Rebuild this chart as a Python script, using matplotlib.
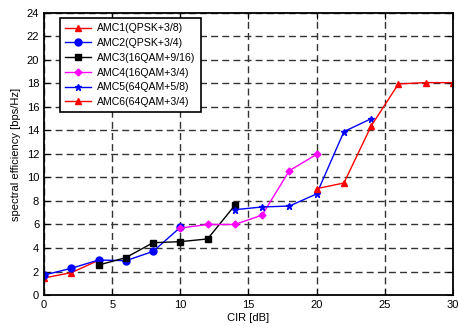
import matplotlib
matplotlib.use('Agg')
import matplotlib.pyplot as plt

# data
amc1_x = [0, 2, 4]
amc1_y = [1.45, 1.9, 2.95]
amc2_x = [0, 2, 4, 6, 8, 10]
amc2_y = [1.7, 2.27, 2.98, 2.92, 3.71, 5.76]
amc3_x = [4, 6, 8, 10, 12, 14]
amc3_y = [2.55, 3.18, 4.45, 4.54, 4.77, 7.63]
amc4_x = [10, 12, 14, 16, 18, 20]
amc4_y = [5.7, 6.0, 6.0, 6.8, 10.58, 11.97]
amc5_x = [14, 16, 18, 20, 22, 24]
amc5_y = [7.26, 7.49, 7.57, 8.6, 13.9, 15.0]
amc6_x = [20, 22, 24, 26, 28, 30]
amc6_y = [9.05, 9.53, 14.38, 17.96, 18.07, 18.07]

labels = ['AMC1(QPSK+3/8)', 'AMC2(QPSK+3/4)', 'AMC3(16QAM+9/16)',
          'AMC4(16QAM+3/4)', 'AMC5(64QAM+5/8)', 'AMC6(64QAM+3/4)']

plt.rcParams['font.family'] = ['Liberation Sans', 'DejaVu Sans']

fig = plt.figure(figsize=(4.6, 3.32), dpi=100)
ax = fig.add_axes([0.0957, 0.1114, 0.889, 0.8497])

ax.plot(amc1_x, amc1_y, color='red', marker='^', ms=5, lw=1, label=labels[0])
ax.plot(amc2_x, amc2_y, color='blue', marker='o', ms=5, lw=1, label=labels[1])
ax.plot(amc3_x, amc3_y, color='black', marker='s', ms=5, lw=1, label=labels[2])
ax.plot(amc4_x, amc4_y, color='magenta', marker='D', ms=3.5, lw=1, label=labels[3])
ax.plot(amc5_x, amc5_y, color='blue', marker='*', ms=5, lw=1, label=labels[4])
ax.plot(amc6_x, amc6_y, color='red', marker='^', ms=5, lw=1, label=labels[5])

ax.set_xlim(0, 30)
ax.set_ylim(0, 24)
ax.set_xticks(range(0, 31, 5))
ax.set_yticks(range(0, 25, 2))
ax.grid(True, color='#333333', linestyle=(0, (5, 3)), linewidth=1)
ax.tick_params(direction='in', top=True, right=True, labelsize=8, length=4)
for sp in ax.spines.values():
    sp.set_linewidth(1.3)

ax.set_xlabel('CIR [dB]', fontsize=8, labelpad=2)
ax.set_ylabel('spectral efficiency [bps/Hz]', fontsize=8, labelpad=4)

leg = ax.legend(loc='upper left', bbox_to_anchor=(0.039, 0.982),
                borderaxespad=0, fontsize=7.6, frameon=True, fancybox=False,
                edgecolor='black', framealpha=1, handlelength=2.4,
                handletextpad=0.6, labelspacing=0.45, borderpad=0.5)
leg.get_frame().set_linewidth(1.2)

fig.savefig('out.png', dpi=100)
